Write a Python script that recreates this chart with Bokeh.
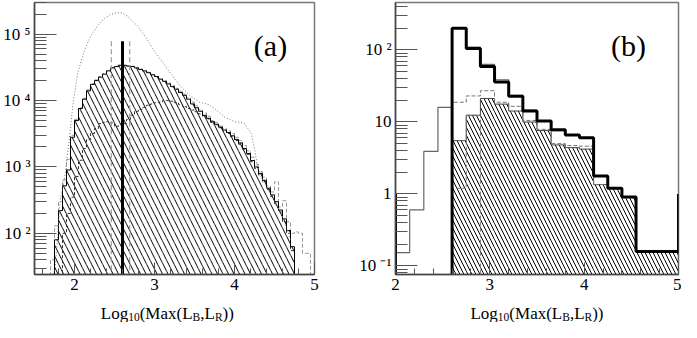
from bokeh.plotting import figure
from bokeh.layouts import row, column
from bokeh.models import Range1d, FixedTicker, Label
from bokeh.core.properties import value
from bokeh.embed import file_html
from bokeh.resources import INLINE

FONT = "Liberation Serif"

# ---------------- Panel (a) data ----------------
a_edges = [1.70, 1.75, 1.80, 1.85, 1.90, 1.95, 2.00, 2.05, 2.10, 2.15, 2.20, 2.25, 2.30,
           2.35, 2.40, 2.45, 2.50, 2.55, 2.60, 2.65, 2.70, 2.75, 2.80, 2.85, 2.90, 2.95,
           3.00, 3.05, 3.10, 3.15, 3.20, 3.25, 3.30, 3.35, 3.40, 3.45, 3.50, 3.55, 3.60,
           3.65, 3.70, 3.75, 3.80, 3.85, 3.90, 3.95, 4.00, 4.05, 4.10, 4.15, 4.20, 4.25,
           4.30, 4.35, 4.40, 4.45, 4.50, 4.55, 4.60, 4.65, 4.70, 4.75, 4.80, 4.85, 4.90, 4.95]
a_hatched = [0, 80, 220, 520, 900, 2800, 5000, 7600, 10500, 14000, 17500, 20000, 22500,
             25000, 28000, 31000, 32500, 34000, 34000, 33000, 32500, 31000, 29500, 28000,
             26300, 24500, 23000, 21000, 19500, 17800, 16200, 14800, 13200, 12000, 10500,
             8900, 7800, 6900, 6000, 5400, 4800, 4400, 4000, 3600, 3300, 2950, 2600, 2300,
             1900, 1600, 1250, 1000, 800, 630, 480, 380, 300, 225, 165, 110, 63, 0, 0, 0, 0]
a_graydash = [40, 130, 300, 640, 1300, 3000, 5200, 7800, 10800, 14500, 18000, 20500, 23000,
              25500, 28500, 31500, 33000, 34500, 34000, 33500, 33000, 31500, 30000, 28500,
              27000, 25000, 23500, 21500, 20000, 18500, 16800, 15300, 13800, 12500, 11000,
              9500, 8300, 7300, 6500, 5800, 5000, 4700, 4200, 3800, 3500, 3200, 2800, 2500,
              2100, 1750, 1400, 1100, 850, 700, 520, 420, 600, 250, 310, 150, 100, 105, 100, 50, 50]
a_bulge = [0, 0, 0, 100, 200, 350, 720, 1260, 1900, 2600, 3200, 3800, 4500, 4700, 4800,
           4600, 4100, 4200, 4500, 5200, 6000, 6900, 7400, 7900, 8500, 8900, 9300, 9500,
           10000, 10000, 9800, 9300, 8700, 8100, 7600, 7200, 6800, 6300, 5800, 5300, 4700,
           4300, 3900, 3500, 3200, 2850, 2500, 2200, 1850, 1550, 1200, 950, 760, 600, 460,
           360, 280, 210, 150, 100, 55, 0, 0, 0, 0]
a_dot_x = [1.72, 1.76, 1.82, 1.88, 1.94, 1.98, 2.04, 2.12, 2.20, 2.28, 2.36, 2.44, 2.52,
           2.60, 2.68, 2.80, 2.92, 3.00, 3.12, 3.20, 3.32, 3.44, 3.56, 3.68, 3.76, 3.88,
           4.00, 4.12, 4.21, 4.25, 4.29, 4.33, 4.40, 4.50, 4.60, 4.70]
a_dot_y = [20, 31, 300, 720, 2950, 8700, 25700, 55000, 93000, 129000, 166000, 195000,
           209000, 209000, 178000, 129000, 79000, 55000, 35500, 25700, 16600, 12000, 9500,
           8700, 7400, 5600, 4800, 4600, 3200, 1900, 1000, 720, 500, 320, 180, 80]
a_mark_x = [2.46, 2.60, 2.69]
a_mark_top = [78000, 78000, 78000]
a_yticks = [100, 1000, 10000, 100000]
a_ylabels = ["10 \u00b2", "10 \u00b3", "10 \u2074", "10 \u2075"]
a_yminor = [30, 40, 50, 60, 70, 80, 90, 200, 300, 400, 500, 600, 700, 800, 900,
            2000, 3000, 4000, 5000, 6000, 7000, 8000, 9000,
            20000, 30000, 40000, 50000, 60000, 70000, 80000, 90000, 200000, 300000]
a_xticks = [2, 3, 4, 5]
a_xminor = [1.6, 1.8, 2.2, 2.4, 2.6, 2.8, 3.2, 3.4, 3.6, 3.8, 4.2, 4.4, 4.6, 4.8]

# ---------------- Panel (b) data ----------------
b_edges = [2.0, 2.15, 2.3, 2.45, 2.6, 2.75, 2.9, 3.05, 3.2, 3.35, 3.5, 3.65, 3.8,
           3.95, 4.1, 4.25, 4.4, 4.55, 4.7, 4.85, 5.0]
b_thin = [0.153, 0.6, 3.9, 16, 201, 110, 63, 38.6, 23.5, 14.6, 10.4, 7.6, 6.6, 6.05,
          1.77, 1.2, 0.91, 0.158, 0.158, 0.158]
b_thick = [0, 0, 0, 0, 201, 105, 58.8, 35.9, 22.7, 14.2, 10.3, 7.8, 6.6, 6.05,
           1.77, 1.2, 0.91, 0.158, 0.158, 0.158]
b_hatched = [0, 0, 0, 0, 5.5, 12.4, 21.2, 17.7, 14.2, 10.0, 7.6, 4.8, 4.4, 4.2,
             1.35, 1.2, 0.91, 0.158, 0.158, 0.158]
b_dashed = [0, 0, 0, 0, 18.8, 23, 27.2, 18.8, 16.5, 10.5, 7.9, 5.0, 4.7, 4.6,
            1.35, 1.2, 0.91, 0.158, 0.158, 0.158]
b_dashed_low = [0, 0, 0, 0, 1.2, 12.4]
b_underflow = 1.0
b_overflow = 1.0
b_yticks = [0.1, 1, 10, 100]
b_ylabels = ["10 \u207b\u00b9", "1", "10", "10 \u00b2"]
b_yminor = [0.08, 0.09, 0.2, 0.3, 0.4, 0.5, 0.6, 0.7, 0.8, 0.9, 2, 3, 4, 5, 6, 7, 8, 9,
            20, 30, 40, 50, 60, 70, 80, 90, 200, 300, 400]
b_xticks = [2, 3, 4, 5]
b_xminor = [2.2, 2.4, 2.6, 2.8, 3.2, 3.4, 3.6, 3.8, 4.2, 4.4, 4.6, 4.8]

# x-axis title pieces: (text, is_subscript)
XLABEL = [("Log", 0), ("10", 1), ("(Max(L", 0), ("B", 1), (",L", 0), ("R", 1), ("))", 0)]

assert len(a_edges) - 1 == len(a_hatched) == len(a_graydash) == len(a_bulge)
assert len(b_edges) - 1 == len(b_thin) == len(b_thick) == len(b_hatched) == len(b_dashed)


def step_xy(edges, vals, floor, end=None):
    xs, ys = [], []
    prev = floor
    for i, v in enumerate(vals):
        v = v if v else floor
        xs += [edges[i], edges[i]]
        ys += [prev, v]
        prev = v
    xe = edges[len(vals)]
    xs += [xe, xe]
    ys += [prev, end if end is not None else floor]
    return xs, ys


CW = {'L': 0.611, 'o': 0.5, 'g': 0.5, '(': 0.333, ')': 0.333, 'M': 0.889, 'a': 0.444,
      'x': 0.5, ',': 0.25, '1': 0.5, '0': 0.5, 'B': 0.667, 'R': 0.667}

W1, W2, H_MAIN, H_LAB = 336, 345, 294, 28
BL1, BR1, BL2, BR2 = 31, 22, 59, 3


def label_fig(width, bl, br, xr, xc, main=17, sub=11.5):
    lf = figure(width=width, height=H_LAB, x_range=xr, y_range=Range1d(0, H_LAB),
                title=None, output_backend="svg", toolbar_location=None,
                x_axis_location=None, y_axis_location=None, min_border_left=bl,
                min_border_right=br, min_border_top=0, min_border_bottom=0)
    lf.grid.visible = False
    lf.outline_line_color = None
    sizes = [main, sub]
    widths = [sum(CW[c] for c in t) * sizes[s] for t, s in XLABEL]
    cur = -sum(widths) / 2
    offs = []
    for w in widths:
        offs.append(cur)
        cur += w
    for s, yb in ((0, 9.0), (1, 5.5)):
        idx = [i for i, (t, ss) in enumerate(XLABEL) if ss == s]
        lf.text(x=[xc] * len(idx), y=[yb] * len(idx), text=[XLABEL[i][0] for i in idx],
                x_offset=[offs[i] for i in idx], text_font=value(FONT),
                text_font_size=f"{sizes[s]}px", text_align="left",
                text_baseline="alphabetic", text_color="black")
    return lf


def style(p, yt, yl, ym, xt, xm):
    p.grid.visible = False
    p.outline_line_color = "#777777"
    p.outline_line_width = 1.5
    p.background_fill_color = "white"
    p.border_fill_color = "white"
    p.yaxis.ticker = FixedTicker(ticks=yt, minor_ticks=ym)
    p.yaxis.major_label_overrides = {float(v): s for v, s in zip(yt, yl)}
    p.xaxis.ticker = FixedTicker(ticks=xt, minor_ticks=xm)
    for ax in (p.xaxis[0], p.yaxis[0]):
        ax.axis_line_color = "#444444"
        ax.axis_line_width = 1.5
        ax.major_tick_line_color = "#555555"
        ax.minor_tick_line_color = "#555555"
        ax.major_tick_out = 0
        ax.minor_tick_out = 0
        ax.major_label_text_font = FONT
        ax.major_label_text_font_size = "17px"
        ax.major_label_text_color = "black"
    p.yaxis.major_tick_in = 22
    p.yaxis.minor_tick_in = 12
    p.xaxis.major_tick_in = 12
    p.xaxis.minor_tick_in = 6
    p.yaxis.major_label_standoff = 4
    p.xaxis.major_label_standoff = 4


# ---------------- Panel (a) ----------------
FA = 1.0
p1 = figure(width=W1, height=H_MAIN, x_range=Range1d(1.5, 5.0), y_range=Range1d(24, 3.0e5),
            y_axis_type="log", output_backend="svg", toolbar_location=None, title=None,
            min_border_left=BL1, min_border_right=BR1, min_border_top=2, min_border_bottom=20)
style(p1, a_yticks, a_ylabels, a_yminor, a_xticks, a_xminor)

p1.quad(left=a_edges[:-1], right=a_edges[1:], top=[v if v else FA for v in a_hatched],
        bottom=FA, fill_color=None, line_color=None, hatch_pattern="\\",
        hatch_color="black", hatch_scale=11, hatch_weight=1)
x, y = step_xy(a_edges, a_bulge, FA)
p1.line(x, y, line_color="#333333", line_width=1, line_dash="3 2")
x, y = step_xy(a_edges, a_graydash, FA)
p1.line(x, y, line_color="#999999", line_width=1, line_dash="4 2")
x, y = step_xy(a_edges, a_hatched, FA)
p1.line(x, y, line_color="black", line_width=1)
p1.line(a_dot_x, a_dot_y, line_color="#777777", line_width=1, line_dash="1 2")
p1.segment(x0=[a_mark_x[0], a_mark_x[2]], y0=[FA, FA], x1=[a_mark_x[0], a_mark_x[2]],
           y1=[a_mark_top[0], a_mark_top[2]], line_color="#999999", line_width=1.2,
           line_dash="5 3")
p1.segment(x0=[a_mark_x[1]], y0=[FA], x1=[a_mark_x[1]], y1=[a_mark_top[1]],
           line_color="black", line_width=3)
p1.add_layout(Label(x=4.45, y=10 ** 4.83, text="(a)", text_font=FONT,
                    text_font_size="30px", text_align="center", text_baseline="middle",
                    text_color="black"))

# ---------------- Panel (b) ----------------
FB = 0.01
p2 = figure(width=W2, height=H_MAIN, x_range=Range1d(2.0, 5.0), y_range=Range1d(0.076, 457),
            y_axis_type="log", output_backend="svg", toolbar_location=None, title=None,
            min_border_left=BL2, min_border_right=BR2, min_border_top=2, min_border_bottom=20)
style(p2, b_yticks, b_ylabels, b_yminor, b_xticks, b_xminor)

p2.quad(left=b_edges[:-1], right=b_edges[1:], top=[v if v else FB for v in b_hatched],
        bottom=FB, fill_color=None, line_color=None, hatch_pattern="\\",
        hatch_color="black", hatch_scale=8, hatch_weight=1)
x, y = step_xy(b_edges, b_hatched, FB)
p2.line(x, y, line_color="#444444", line_width=1)
x, y = step_xy(b_edges, b_dashed, FB)
p2.line(x, y, line_color="#777777", line_width=1, line_dash="4 2")
x, y = step_xy(b_edges, b_dashed_low, FB)
p2.line(x, y, line_color="#777777", line_width=1, line_dash="4 2")
x, y = step_xy(b_edges, b_thin, FB)
p2.line(x, y, line_color="#666666", line_width=1.2)
x, y = step_xy(b_edges, b_thick, FB, end=b_overflow)
p2.line(x, y, line_color="black", line_width=3)
p2.segment(x0=[b_edges[0]], y0=[FB], x1=[b_edges[0]], y1=[b_underflow],
           line_color="black", line_width=3)
p2.add_layout(Label(x=4.47, y=10 ** 2.06, text="(b)", text_font=FONT, text_font_size="30px",
                    text_align="center", text_baseline="middle", text_color="black"))

lab1 = label_fig(W1, BL1, BR1, p1.x_range, 3.18)
lab2 = label_fig(W2, BL2, BR2, p2.x_range, 3.5)

layout = column(row(p1, p2), row(lab1, lab2))
open("out.html", "w").write(file_html(layout, INLINE))
